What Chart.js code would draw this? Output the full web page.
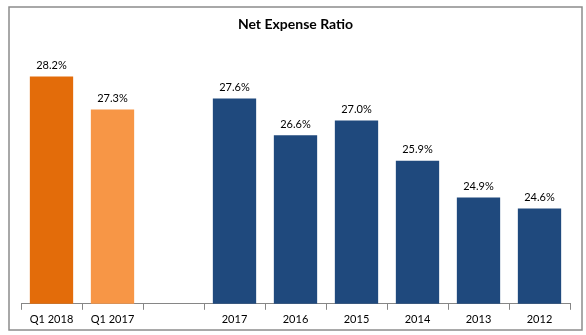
<!DOCTYPE html>
<html lang="en">
    <head>
        <meta charset="UTF-8" />
        <title>Net Expense Ratio</title>
        <style>
            html, body {
                margin: 0;
                padding: 0;
                background: #ffffff;
            }
            .chartBox {
                width: 586px;
                height: 335px;
            }
        </style>
    </head>
    <body>
        <div class="chartBox">
            <canvas id="expenseChart"></canvas>
        </div>

        <script src="https://cdn.jsdelivr.net/npm/chart.js"></script>

        <script>
            // data
            const categories = ["Q1 2018", "Q1 2017", "", "2017", "2016", "2015", "2014", "2013", "2012"];
            const ratios = [28.2, 27.3, null, 27.6, 26.6, 27.0, 25.9, 24.9, 24.6];
            const barColors = ["#e36c0a", "#f79646", "#1f497d", "#1f497d", "#1f497d", "#1f497d", "#1f497d", "#1f497d", "#1f497d"];

            const FONT = "Lato, 'Open Sans', sans-serif";

            // grey frame round the whole chart + value labels over the bars
            const framePlugin = {
                id: "frame",
                beforeDraw(chart) {
                    const ctx = chart.ctx;
                    ctx.save();
                    ctx.fillStyle = "#ffffff";
                    ctx.fillRect(0, 0, chart.width, chart.height);
                    ctx.strokeStyle = "#8c8c8c";
                    ctx.lineWidth = 1.5;
                    ctx.strokeRect(9, 7, 573, 323);
                    ctx.restore();
                },
                afterDatasetsDraw(chart) {
                    const ctx = chart.ctx;
                    const meta = chart.getDatasetMeta(0);
                    ctx.save();
                    ctx.font = "11px " + FONT;
                    ctx.fillStyle = "#000000";
                    ctx.textAlign = "center";
                    ctx.textBaseline = "middle";
                    meta.data.forEach(function (bar, i) {
                        if (ratios[i] === null) return;
                        ctx.fillText(ratios[i].toFixed(1) + "%", bar.x, bar.y - 11);
                    });
                    ctx.restore();
                },
            };

            const config = {
                type: "bar",
                data: {
                    labels: categories,
                    datasets: [
                        {
                            data: ratios,
                            backgroundColor: barColors,
                            borderWidth: 0,
                            categoryPercentage: 1.0,
                            barPercentage: 0.71,
                        },
                    ],
                },
                options: {
                    responsive: false,
                    animation: false,
                    devicePixelRatio: 1,
                    layout: {
                        padding: { left: 21, right: 16, top: 10, bottom: 6 },
                    },
                    plugins: {
                        legend: { display: false },
                        tooltip: { enabled: false },
                        title: {
                            display: true,
                            text: "Net Expense Ratio",
                            color: "#000000",
                            font: { family: FONT, size: 14, weight: "bold" },
                            padding: { top: 6, bottom: 10 },
                        },
                    },
                    scales: {
                        x: {
                            grid: {
                                display: true,
                                offset: true,
                                drawOnChartArea: false,
                                drawTicks: true,
                                tickLength: 6,
                                color: "#868686",
                            },
                            border: { display: true, color: "#868686", width: 1 },
                            ticks: {
                                color: "#000000",
                                font: { family: FONT, size: 11 },
                                padding: 3,
                                maxRotation: 0,
                                autoSkip: false,
                            },
                        },
                        y: {
                            display: false,
                            min: 22,
                            max: 29.12,
                        },
                    },
                },
                plugins: [framePlugin],
            };

            const canvas = document.getElementById("expenseChart");
            canvas.width = 586;
            canvas.height = 335;
            const expenseChart = new Chart(canvas, config);
        </script>
    </body>
</html>
